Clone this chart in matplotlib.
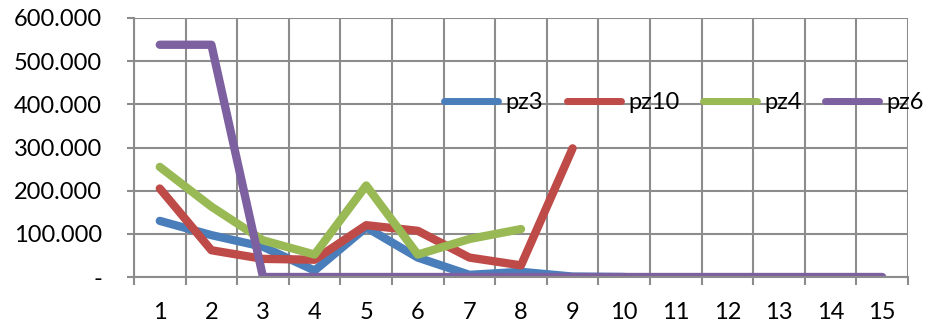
import matplotlib.pyplot as plt
from matplotlib.ticker import FuncFormatter, MultipleLocator

plt.rcParams['font.family'] = ['Lato', 'DejaVu Sans']

# values per period (1..15)
periods = list(range(1, 16))
pz3 = [130000, 97000, 70000, 15000, 115000, 45000, 5000, 12000, 1000, 0]
pz10 = [205000, 62000, 42000, 40000, 120000, 107000, 45000, 27000, 298000]
pz4 = [255000, 163000, 85000, 52000, 212000, 52000, 88000, 111000]
pz6 = [538000, 538000, 0, 0, 0, 0, 0, 0, 0, 0, 0, 0, 0, 0, 0]

series = [
    ('pz3', pz3, '#4a7ebb'),
    ('pz10', pz10, '#be4b48'),
    ('pz4', pz4, '#98b954'),
    ('pz6', pz6, '#7d60a0'),
]

grid_col = '#8c8c8c'
fs = 17

fig = plt.figure(figsize=(9.25, 3.28), dpi=100)
ax = fig.add_axes([134 / 925, 1 - 277 / 328, (908 - 134) / 925, (277 - 18) / 328])

for name, vals, col in series:
    ax.plot(periods[:len(vals)], vals, color=col, lw=6, label=name,
            solid_capstyle='round', solid_joinstyle='round')

ax.set_xlim(0.5, 15.5)
ax.set_ylim(0, 600000)
ax.yaxis.set_major_locator(MultipleLocator(100000))
ax.set_xticks(periods)
ax.set_xticks([p + 0.5 for p in range(0, 16)], minor=True)


def fmt(v, pos):
    if v == 0:
        return '-'
    return f'{v:,.0f}'.replace(',', '.')


ax.yaxis.set_major_formatter(FuncFormatter(fmt))
ax.grid(True, axis='y', which='major', color=grid_col, lw=1.5)
ax.grid(True, axis='x', which='minor', color=grid_col, lw=1.5)
ax.set_axisbelow(True)

ax.tick_params(axis='x', which='major', length=0, pad=18, labelsize=fs)
ax.tick_params(axis='x', which='minor', length=6, width=1.5, color=grid_col)
ax.tick_params(axis='y', length=5, width=1.5, color=grid_col, labelsize=fs, pad=18)

for side in ['top', 'right']:
    ax.spines[side].set_visible(False)
for side in ['left', 'bottom']:
    ax.spines[side].set_color(grid_col)
    ax.spines[side].set_linewidth(1.5)

leg = fig.legend(loc='center', bbox_to_anchor=(684 / 925, 1 - 103 / 328), ncol=4,
                 frameon=False, fontsize=fs, handlelength=2.3, handletextpad=0.3,
                 columnspacing=1.0, borderaxespad=0, borderpad=0)
for h in leg.legend_handles:
    h.set_linewidth(5)

fig.savefig('out.png', dpi=100)
